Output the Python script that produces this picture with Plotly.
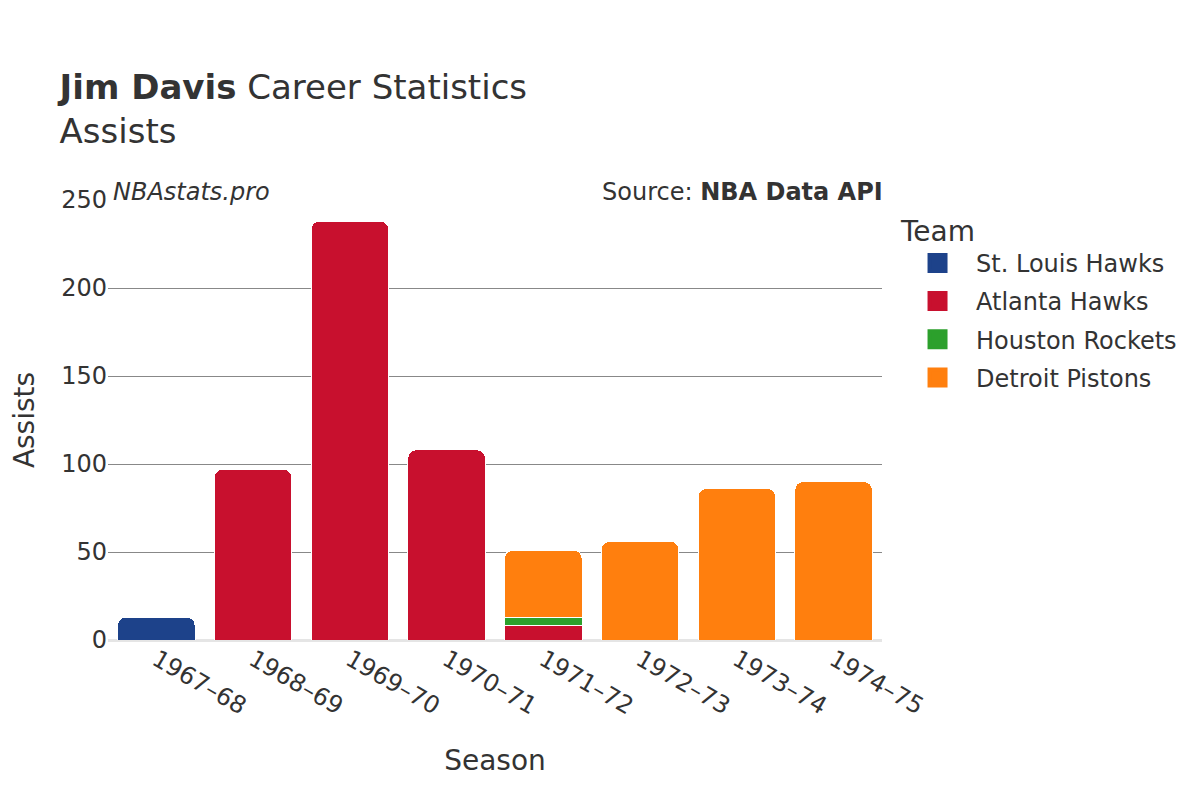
import plotly.graph_objects as go

seasons = ["1967–68", "1968–69", "1969–70", "1970–71", "1971–72", "1972–73", "1973–74", "1974–75"]

teams = ["St. Louis Hawks", "Atlanta Hawks", "Houston Rockets", "Detroit Pistons"]
colors = ["#1d428a", "#c8102e", "#2ca02c", "#ff7f0e"]

stl_seasons = ["1967–68"]
stl_ast = [13]
atl_seasons = ["1968–69", "1969–70", "1970–71", "1971–72"]
atl_ast = [97, 238, 108, 8]
hou_seasons = ["1971–72"]
hou_ast = [5]
det_seasons = ["1971–72", "1972–73", "1973–74", "1974–75"]
det_ast = [38, 56, 86, 90]

series = [
    (teams[0], stl_seasons, stl_ast, colors[0]),
    (teams[1], atl_seasons, atl_ast, colors[1]),
    (teams[2], hou_seasons, hou_ast, colors[2]),
    (teams[3], det_seasons, det_ast, colors[3]),
]

fig = go.Figure()
for name, xs, ys, c in series:
    fig.add_trace(go.Bar(
        x=xs, y=ys, name=name, legendgroup=name, showlegend=False,
        marker=dict(color=c, line=dict(color="white", width=1)),
    ))
# legend entries (large square swatches)
for name, xs, ys, c in series:
    fig.add_trace(go.Scatter(
        x=[None], y=[None], name=name, legendgroup=name, mode="markers",
        marker=dict(symbol="square", size=16, color=c, line=dict(color=c, width=4)),
        showlegend=True,
    ))

font_family = "DejaVu Sans"
fig.update_layout(
    width=1200, height=800,
    barmode="stack",
    barcornerradius=8,
    bargap=0.2,
    plot_bgcolor="white",
    paper_bgcolor="white",
    font=dict(family=font_family, color="#333333", size=24),
    margin=dict(l=100, r=326, t=192, b=168),
    title=dict(
        text="<b>Jim Davis</b> Career Statistics<br>Assists",
        x=0.043, xanchor="left", y=0.886, yanchor="top",
        font=dict(size=34, color="#333333"),
    ),
    xaxis=dict(
        categoryorder="array", categoryarray=seasons,
        tickangle=30, tickfont=dict(size=24),
        title=dict(text="Season", font=dict(size=28), standoff=30),
        showgrid=False, automargin=False,
    ),
    yaxis=dict(
        range=[0, 250], dtick=50,
        tickfont=dict(size=24),
        title=dict(text="Assists", font=dict(size=28), standoff=36),
        showgrid=True, gridcolor="#888888", gridwidth=1,
        zeroline=True, zerolinecolor="#e5e5e5", zerolinewidth=3,
        automargin=False,
    ),
    legend=dict(
        title=dict(text="Team", font=dict(size=28)),
        font=dict(size=24),
        x=1.022, y=0.99, xanchor="left", yanchor="top",
        traceorder="grouped", tracegroupgap=4,
        itemwidth=67, itemsizing="trace",
    ),
    annotations=[
        dict(text="<i>NBAstats.pro</i>", xref="paper", yref="paper",
             x=0.004, y=1.018, xanchor="left", yanchor="middle",
             showarrow=False, font=dict(size=24)),
        dict(text="Source: <b>NBA Data API</b>", xref="paper", yref="paper",
             x=1.004, y=1.018, xanchor="right", yanchor="middle",
             showarrow=False, font=dict(size=24)),
    ],
)

fig.write_html("out.html")
